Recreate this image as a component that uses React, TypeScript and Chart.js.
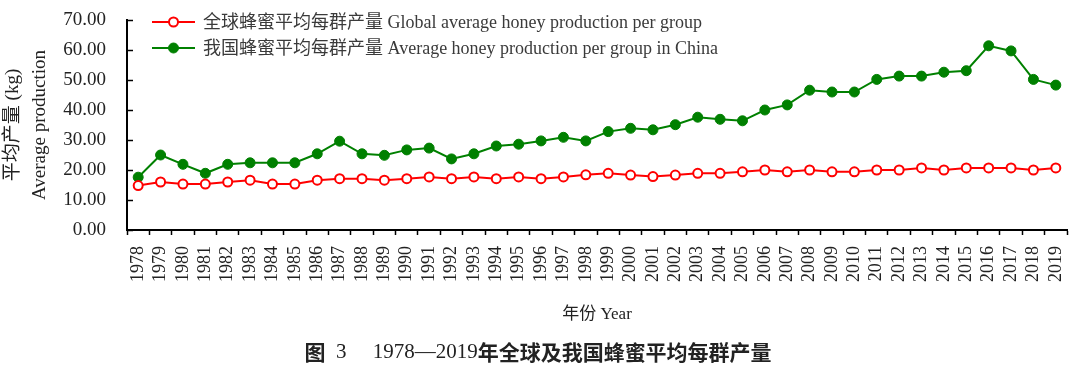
import React, { useEffect, useRef } from 'react';
import { Chart, registerables } from 'chart.js';

Chart.register(...registerables);

const years = [
  '1978', '1979', '1980', '1981', '1982', '1983', '1984', '1985', '1986', '1987',
  '1988', '1989', '1990', '1991', '1992', '1993', '1994', '1995', '1996', '1997',
  '1998', '1999', '2000', '2001', '2002', '2003', '2004', '2005', '2006', '2007',
  '2008', '2009', '2010', '2011', '2012', '2013', '2014', '2015', '2016', '2017',
  '2018', '2019',
];

const globalAvg = [
  14.8, 16.0, 15.3, 15.3, 16.0, 16.6, 15.3, 15.3, 16.6, 17.1,
  17.1, 16.6, 17.1, 17.7, 17.1, 17.7, 17.1, 17.7, 17.1, 17.7,
  18.4, 18.9, 18.3, 17.8, 18.3, 18.9, 18.9, 19.4, 20.0, 19.4,
  20.0, 19.4, 19.4, 20.0, 20.0, 20.7, 20.0, 20.7, 20.7, 20.7,
  20.0, 20.7,
];

const chinaAvg = [
  17.6, 25.0, 21.9, 18.9, 21.9, 22.4, 22.4, 22.4, 25.4, 29.6,
  25.4, 24.9, 26.7, 27.3, 23.7, 25.4, 28.0, 28.6, 29.7, 30.9,
  29.7, 32.8, 33.9, 33.4, 35.1, 37.6, 36.9, 36.4, 40.0, 41.7,
  46.6, 46.0, 46.0, 50.2, 51.3, 51.3, 52.6, 53.1, 61.4, 59.7,
  50.2, 48.3,
];

const seriesLabels = [
  '全球蜂蜜平均每群产量 Global average honey production per group',
  '我国蜂蜜平均每群产量 Average honey production per group in China',
];

const yMin = 0;
const yMax = 70;
const yStep = 10;

const yTitle = ['平均产量 (kg)', 'Average production'];
const xTitle = '年份 Year';
const captionParts = [
  { text: '图', bold: true },
  { text: '  3     1978—2019', bold: false },
  { text: '年全球及我国蜂蜜平均每群产量', bold: true },
];

const SERIF = '"Liberation Serif", "Noto Sans CJK SC", serif';

const decorPlugin = {
  id: 'decor',
  afterDraw(chart: any) {
    const { ctx, chartArea, scales } = chart;
    ctx.save();
    // inner y tick marks
    ctx.strokeStyle = '#000';
    ctx.lineWidth = 1.5;
    for (let v = yMin; v <= yMax; v += yStep) {
      const y = Math.round(scales.y.getPixelForValue(v)) + 0.5;
      ctx.beginPath();
      ctx.moveTo(chartArea.left, y);
      ctx.lineTo(chartArea.left + 6, y);
      ctx.stroke();
    }
    // legend
    chart.data.datasets.forEach((ds: any, i: number) => {
      const y = 22 + i * 26;
      ctx.strokeStyle = ds.borderColor;
      ctx.lineWidth = 2;
      ctx.beginPath();
      ctx.moveTo(152, y);
      ctx.lineTo(195, y);
      ctx.stroke();
      ctx.beginPath();
      ctx.arc(173.5, y, ds.pointRadius, 0, Math.PI * 2);
      ctx.fillStyle = ds.pointBackgroundColor;
      ctx.fill();
      ctx.lineWidth = ds.pointBorderWidth;
      ctx.strokeStyle = ds.pointBorderColor;
      ctx.stroke();
      ctx.fillStyle = '#3a3a3a';
      ctx.font = `18px ${SERIF}`;
      ctx.textBaseline = 'middle';
      ctx.textAlign = 'left';
      ctx.fillText(ds.label, 203, y + 1);
    });
    // caption
    ctx.textBaseline = 'middle';
    ctx.textAlign = 'left';
    const fonts = captionParts.map((p) =>
      p.bold ? 'bold 21px "Noto Sans CJK SC", sans-serif' : `21px ${SERIF}`
    );
    let total = 0;
    const widths = captionParts.map((p, i) => {
      ctx.font = fonts[i];
      const w = ctx.measureText(p.text).width;
      total += w;
      return w;
    });
    let x = 538 - total / 2;
    ctx.fillStyle = '#222';
    captionParts.forEach((p, i) => {
      ctx.font = fonts[i];
      ctx.fillText(p.text, x, 352);
      x += widths[i];
    });
    ctx.restore();
  },
};

export default function App() {
  const canvasRef = useRef<HTMLCanvasElement | null>(null);

  useEffect(() => {
    if (!canvasRef.current) return;
    const chart = new Chart(canvasRef.current, {
      type: 'line',
      data: {
        labels: years,
        datasets: [
          {
            label: seriesLabels[0],
            data: globalAvg,
            borderColor: '#ff0000',
            borderWidth: 2,
            backgroundColor: '#ffffff',
            pointBackgroundColor: '#ffffff',
            pointBorderColor: '#ff0000',
            pointBorderWidth: 2,
            pointRadius: 4.5,
            pointHoverRadius: 4.5,
            tension: 0,
            order: 1,
          },
          {
            label: seriesLabels[1],
            data: chinaAvg,
            borderColor: '#008000',
            borderWidth: 2,
            backgroundColor: '#008000',
            pointBackgroundColor: '#008000',
            pointBorderColor: '#008000',
            pointBorderWidth: 1,
            pointRadius: 5,
            pointHoverRadius: 5,
            tension: 0,
            order: 2,
          },
        ],
      },
      options: {
        animation: false,
        responsive: true,
        maintainAspectRatio: false,
        layout: { padding: { top: 20, right: 13, left: 0, bottom: 0 } },
        plugins: {
          legend: { display: false },
          tooltip: { enabled: false },
        },
        scales: {
          x: {
            type: 'category',
            offset: true,
            grid: {
              display: true,
              drawOnChartArea: false,
              drawTicks: true,
              tickLength: 5,
              offset: true,
              color: '#000',
              tickWidth: 1.5,
            },
            border: { display: true, color: '#000', width: 2 },
            ticks: {
              autoSkip: false,
              minRotation: 90,
              maxRotation: 90,
              padding: 11,
              color: '#222',
              font: { family: SERIF, size: 18 },
            },
            title: {
              display: true,
              text: xTitle,
              color: '#222',
              font: { family: SERIF, size: 17 },
              padding: { top: 0, bottom: 40 },
            },
            afterFit: (scale: any) => {
              scale.height = 135;
              scale.paddingLeft = 0;
              scale.paddingRight = 0;
            },
          },
          y: {
            min: yMin,
            max: yMax,
            grid: {
              display: true,
              drawOnChartArea: false,
              drawTicks: false,
            },
            border: { display: true, color: '#000', width: 2 },
            ticks: {
              stepSize: yStep,
              padding: 21,
              color: '#222',
              font: { family: SERIF, size: 19 },
              callback: (v: any) => Number(v).toFixed(2),
            },
            title: {
              display: true,
              text: yTitle,
              color: '#222',
              font: { family: SERIF, size: 19, lineHeight: 1.42 },
              padding: { top: 0, bottom: 0 },
            },
            afterFit: (scale: any) => {
              scale.width = 127;
              scale.paddingTop = 0;
              scale.paddingBottom = 0;
            },
          },
        },
      },
      plugins: [decorPlugin],
    } as any);
    return () => chart.destroy();
  }, []);

  return (
    <div
      style={{
        position: 'fixed',
        left: 0,
        top: 0,
        width: 1080,
        height: 365,
        background: '#fff',
      }}
    >
      <canvas ref={canvasRef} />
    </div>
  );
}
